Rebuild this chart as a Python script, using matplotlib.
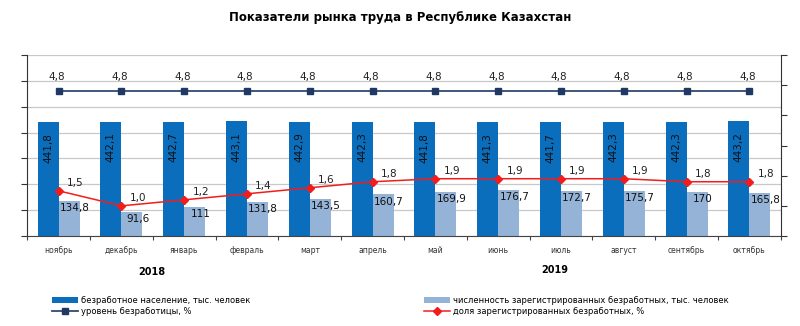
import matplotlib.pyplot as plt
import numpy as np

months = ['ноябрь', 'декабрь', 'январь', 'февраль', 'март', 'апрель',
          'май', 'июнь', 'июль', 'август', 'сентябрь', 'октябрь']
unemployed = [441.8, 442.1, 442.7, 443.1, 442.9, 442.3, 441.8, 441.3, 441.7, 442.3, 442.3, 443.2]
registered = [134.8, 91.6, 111, 131.8, 143.5, 160.7, 169.9, 176.7, 172.7, 175.7, 170, 165.8]
rate = [4.8] * 12
reg_share = [1.5, 1.0, 1.2, 1.4, 1.6, 1.8, 1.9, 1.9, 1.9, 1.9, 1.8, 1.8]

def fmt(v):
    # integers like 111 stay without decimals (as in the source chart)
    s = ('%.1f' % v) if v != int(v) else str(int(v))
    return s.replace('.', ',')

def fmt1(v):
    return ('%.1f' % v).replace('.', ',')

fig = plt.figure(figsize=(8, 3.26), dpi=100)
ax = fig.add_axes([0.034, 0.276, 0.942, 0.555])
x = np.arange(len(months))
w = 0.335

b1 = ax.bar(x - w / 2, unemployed, w, color='#0A6EBD', zorder=2)
b2 = ax.bar(x + w / 2, registered, w, color='#95B3D7', zorder=2)

for i, v in enumerate(unemployed):
    ax.text(x[i] - w / 2, v - 42, fmt(v), rotation=90, ha='center', va='top', fontsize=7.5, color='#111111', zorder=4)
for i, v in enumerate(registered):
    ax.text(x[i] + w / 2 + 0.09, v - 8, fmt(v), ha='center', va='top', fontsize=7.5, color='#111111', zorder=4)

ax.set_xlim(-0.5, len(months) - 0.5)
ax.set_ylim(0, 700)
ax.set_yticks(np.arange(0, 701, 100))
ax.set_yticklabels([])
ax.yaxis.grid(True, color='#c8c8c8', linewidth=0.9, zorder=0)
ax.set_axisbelow(True)
ax.set_xticks(np.arange(-0.5, len(months), 1.0))
ax.set_xticklabels([])
ax.set_xticks(x, minor=True)
ax.set_xticklabels(months, minor=True, fontsize=5.5, color='#333333')
ax.tick_params(axis='x', which='minor', length=0, pad=7)
ax.tick_params(axis='x', which='major', length=3, color='#444444')
ax.tick_params(axis='y', length=4, color='#333333')
ax.spines['top'].set_visible(False)
ax.spines['right'].set_visible(False)
ax.spines['left'].set_color('#333333')
ax.spines['bottom'].set_color('#444444')

ax2 = ax.twinx()
ax2.set_ylim(0, 6)
ax2.set_yticks(np.arange(0, 7, 1))
ax2.set_yticklabels([])
ax2.tick_params(axis='y', length=4, color='#333333')
for s in ['top', 'left', 'bottom']:
    ax2.spines[s].set_visible(False)
ax2.spines['right'].set_color('#333333')

l1, = ax2.plot(x, rate, color='#2F4A72', marker='s', markersize=5,
               markerfacecolor='#1F3864', markeredgecolor='#1F3864', linewidth=1.3, zorder=5)
l2, = ax2.plot(x, reg_share, color='#F21C1C', marker='D', markersize=4,
               linewidth=1.1, zorder=5)
for i, v in enumerate(rate):
    ax2.text(x[i] - 0.03, v + 0.3, fmt1(v), ha='center', va='bottom', fontsize=7.5, color='#222222')
for i, v in enumerate(reg_share):
    ax2.text(x[i] + 0.13, v + 0.1, fmt1(v), ha='left', va='bottom', fontsize=7.5, color='#222222')

fig.text(0.5, 0.947, 'Показатели рынка труда в Республике Казахстан',
         ha='center', va='center', fontsize=8.5, fontweight='bold')
fig.text(0.19, 0.165, '2018', ha='center', va='center', fontsize=7, fontweight='bold')
fig.text(0.694, 0.172, '2019', ha='center', va='center', fontsize=7, fontweight='bold')

fig.legend([b1, l1], ['безработное население, тыс. человек', 'уровень безработицы, %'],
           loc='upper left', bbox_to_anchor=(0.055, 0.115), frameon=False,
           fontsize=6, handlelength=3.2, handletextpad=0.3, labelspacing=0.25)
fig.legend([b2, l2], ['численность зарегистрированных безработных, тыс. человек',
                      'доля зарегистрированных безработных, %'],
           loc='upper left', bbox_to_anchor=(0.52, 0.115), frameon=False,
           fontsize=6, handlelength=3.2, handletextpad=0.3, labelspacing=0.25)

fig.savefig('out.png', dpi=100)
